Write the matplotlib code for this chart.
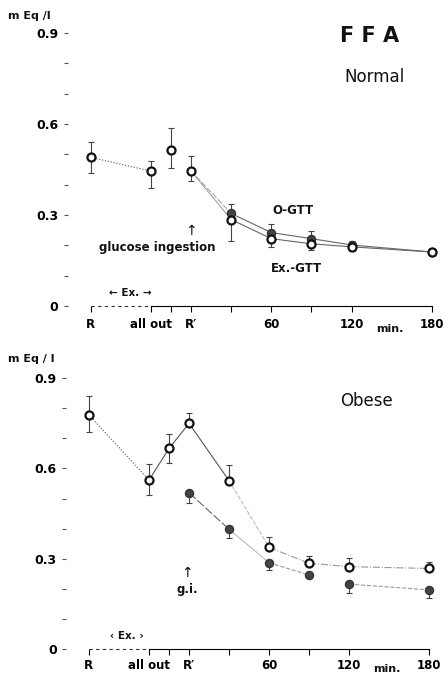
import matplotlib
matplotlib.use('Agg')
import matplotlib.pyplot as plt

# time axis (minutes, R' = 0)
x_pos = [-75, -30, -15, 0, 30, 60, 90, 120, 180]
tick_labels = ['R', 'all out', '', "R\u2032", '', '60', '', '120', '180']

# Normal: Ex.-GTT (open), all points
normal_ex = [0.490, 0.445, 0.515, 0.445, 0.285, 0.222, 0.205, 0.195, 0.178]
normal_ex_lo = [0.050, 0.056, 0.060, 0.034, 0.070, 0.027, 0.020, 0.015, 0.012]
normal_ex_hi = [0.050, 0.033, 0.072, 0.050, 0.000, 0.000, 0.000, 0.000, 0.010]
# Normal: O-GTT (filled), from 30 min
normal_o_x = [30, 60, 90, 120, 180]
normal_o = [0.305, 0.242, 0.222, 0.201, 0.178]
normal_o_hi = [0.030, 0.027, 0.025, 0.013, 0.012]

# Obese: Ex.-GTT (open)
obese_ex = [0.777, 0.561, 0.666, 0.749, 0.559, 0.338, 0.285, 0.274, 0.268]
obese_ex_lo = [0.055, 0.050, 0.047, 0.000, 0.000, 0.000, 0.000, 0.000, 0.000]
obese_ex_hi = [0.063, 0.055, 0.047, 0.033, 0.052, 0.035, 0.024, 0.030, 0.022]
# Obese: O-GTT (filled), from R'
obese_o_x = [0, 30, 60, 90, 120, 180]
obese_o = [0.519, 0.398, 0.287, 0.246, 0.216, 0.197]
obese_o_lo = [0.033, 0.030, 0.023, 0.010, 0.030, 0.027]

W, H = 444, 676
plt.rcParams['font.family'] = ['DejaVu Sans']
fig = plt.figure(figsize=(W / 100, H / 100), dpi=100)


def px(x, y):  # pixel -> figure fraction
    return x / W, 1 - y / H


def setup(ax, pad):
    ax.set_xlim(-95, 188)
    for s in ['top', 'right', 'left']:
        ax.spines[s].set_visible(False)
    ax.spines['bottom'].set_position(('data', 0))
    ax.spines['bottom'].set_bounds(-30, 180)
    ax.spines['bottom'].set_linewidth(0.8)
    ax.plot([-75, -30], [0, 0], ls=(0, (3, 3)), color='#333', lw=0.8)
    ax.set_xticks(x_pos)
    ax.set_xticklabels(tick_labels, fontsize=8.5, fontweight='bold')
    ax.tick_params(axis='x', direction='out', length=4, width=0.8, pad=pad)
    ax.set_yticks([i / 10 for i in range(10)])
    ax.set_yticklabels(['0' if i == 0 else ('0.%d' % i if i % 3 == 0 else '') for i in range(10)],
                       fontsize=9, fontweight='bold')
    ax.tick_params(axis='y', direction='in', length=3, width=0.8, pad=4, color='#555')


def seg(ax, xs, ys, i, j, **kw):
    ax.plot([xs[i], xs[j]], [ys[i], ys[j]], color=kw.pop('color', '#666'), lw=kw.pop('lw', 0.8), zorder=1, **kw)


open_kw = dict(marker='o', ms=5.8, mfc='white', mec='#111', mew=1.6, ls='none', zorder=3)
fill_kw = dict(marker='o', ms=5.8, mfc='#444', mec='#333', mew=1.0, ls='none', zorder=3)
err_kw = dict(ls='none', ecolor='#444', elinewidth=0.8, capsize=2, capthick=0.8, zorder=2)

# ---------- Normal ----------
ax1 = fig.add_axes([0.1437, 0.4935, 0.8534, 0.4846])
ax1.set_ylim(-0.12, 0.96)
setup(ax1, 5)
seg(ax1, x_pos, normal_ex, 0, 1, ls=':', color='#555')
ax1.plot([0, 30], [0.445, normal_o[0]], color='#999', lw=0.7, ls=(0, (6, 2)), zorder=1)
seg(ax1, x_pos, normal_ex, 3, 4, color='#999', lw=0.7)
for i in range(4, 8):
    seg(ax1, x_pos, normal_ex, i, i + 1)
for i in range(4):
    seg(ax1, normal_o_x, normal_o, i, i + 1)
ax1.errorbar(x_pos, normal_ex, yerr=[normal_ex_lo, normal_ex_hi], **err_kw)
ax1.errorbar(normal_o_x, normal_o, yerr=[[0] * 5, normal_o_hi], **err_kw)
ax1.plot(normal_o_x, normal_o, **fill_kw)
ax1.plot(x_pos, normal_ex, **open_kw)

# ---------- Obese ----------
ax2 = fig.add_axes([0.1401, 0.0038, 0.8510, 0.4640])
ax2.set_ylim(-0.08, 0.96)
setup(ax2, 3)
seg(ax2, x_pos, obese_ex, 0, 1, ls=':', color='#555')
for i in range(1, 4):
    seg(ax2, x_pos, obese_ex, i, i + 1, color='#555')
seg(ax2, x_pos, obese_ex, 4, 5, color='#bbb', ls='--')
for i in range(5, 8):
    seg(ax2, x_pos, obese_ex, i, i + 1, color='#999', ls='-.')
seg(ax2, obese_o_x, obese_o, 0, 1, color='#666', ls=(0, (8, 2)))
seg(ax2, obese_o_x, obese_o, 1, 2, color='#bbb')
seg(ax2, obese_o_x, obese_o, 2, 3, color='#999', ls='--')
seg(ax2, obese_o_x, obese_o, 4, 5, color='#999', ls='--')
ax2.errorbar(x_pos, obese_ex, yerr=[obese_ex_lo, obese_ex_hi], **err_kw)
ax2.errorbar(obese_o_x, obese_o, yerr=[obese_o_lo, [0] * 6], **err_kw)
ax2.plot(obese_o_x, obese_o, **fill_kw)
ax2.plot(x_pos, obese_ex, **open_kw)

# ---------- texts ----------
bold = dict(fontweight='bold', color='#111')
fig.text(*px(8, 16), 'm Eq /l', fontsize=8, va='center', **bold)
fig.text(*px(370, 36), 'F F A', fontsize=15, ha='center', va='center', **bold)
fig.text(*px(374, 77), 'Normal', fontsize=12, ha='center', va='center', color='#111')
fig.text(*px(293, 211), 'O-GTT', fontsize=8.5, ha='center', va='center', **bold)
fig.text(*px(296, 268), 'Ex.-GTT', fontsize=8.5, ha='center', va='center', **bold)
fig.text(*px(191, 231), '\u2191', fontsize=10, ha='center', va='center', color='#111')
fig.text(*px(157, 247), 'glucose ingestion', fontsize=8.5, ha='center', va='center', **bold)
fig.text(*px(130, 293), '\u2190 Ex. \u2192', fontsize=7.5, ha='center', va='center', **bold)
fig.text(*px(390, 329), 'min.', fontsize=8, ha='center', va='center', **bold)

fig.text(*px(8, 359), 'm Eq / l', fontsize=8, va='center', **bold)
fig.text(*px(366, 401), 'Obese', fontsize=12, ha='center', va='center', color='#111')
fig.text(*px(187, 573), '\u2191', fontsize=10, ha='center', va='center', color='#111')
fig.text(*px(187, 590), 'g.i.', fontsize=8.5, ha='center', va='center', **bold)
fig.text(*px(127, 636), '\u2039 Ex. \u203a', fontsize=7.5, ha='center', va='center', **bold)
fig.text(*px(387, 669), 'min.', fontsize=8, ha='center', va='center', **bold)

fig.savefig('out.png', dpi=100)
